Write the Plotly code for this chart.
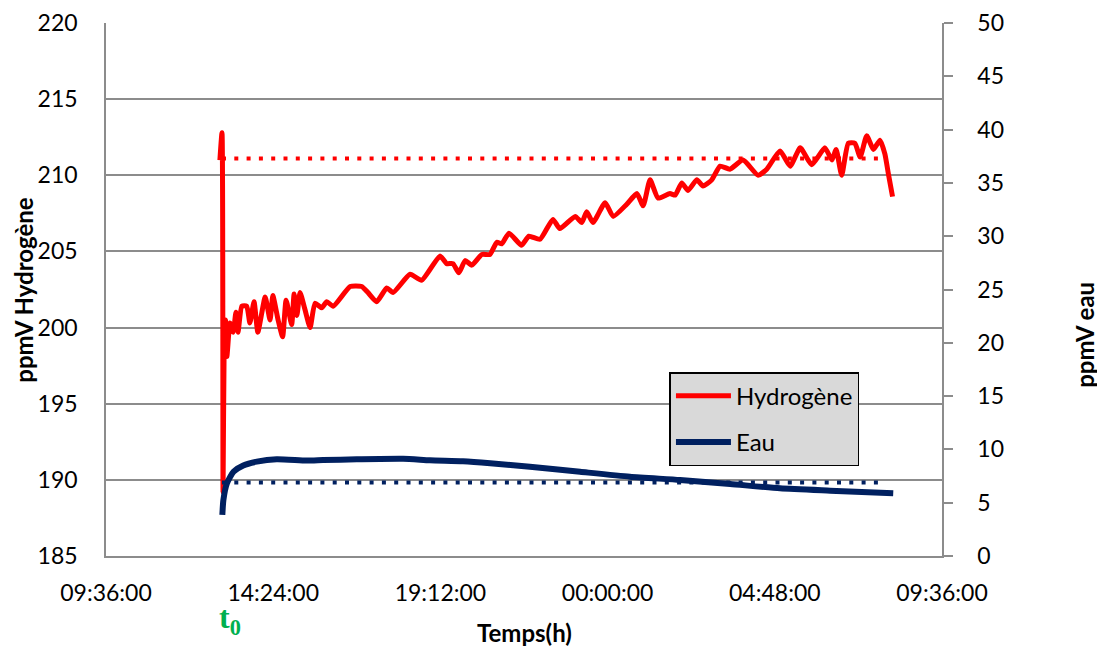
import pandas as pd
import plotly.graph_objects as go

# hours elapsed since 09:36:00 (start of the x axis)
h2_hours = [3.27, 3.33, 3.36, 3.39, 3.43, 3.47, 3.56, 3.65, 3.73, 3.79, 3.90, 4.04, 4.13,
            4.25, 4.36, 4.57, 4.71, 4.79, 4.94, 5.07, 5.17, 5.33, 5.40, 5.48, 5.57,
            5.71, 5.86, 6.00, 6.19, 6.34, 6.52, 7.01, 7.34, 7.52, 7.77, 8.06, 8.24,
            8.73, 9.06, 9.59, 9.78, 9.96, 10.13, 10.31, 10.50, 10.79, 11.02, 11.22,
            11.36, 11.57, 11.93, 12.14, 12.46, 12.83, 13.03, 13.47, 13.66, 13.80,
            13.98, 14.33, 14.56, 14.95, 15.24, 15.42, 15.62, 15.85, 16.19, 16.34,
            16.53, 16.71, 16.96, 17.14, 17.39, 17.63, 17.91, 18.29, 18.72, 18.97,
            19.35, 19.64, 19.93, 20.26, 20.64, 20.84, 20.96, 21.12, 21.31, 21.50,
            21.65, 21.84, 22.03, 22.22, 22.36, 22.46, 22.58]
h2_ppmv = [211.0, 212.8, 189.2, 198.3, 200.5, 198.1, 200.3, 199.7, 201.0, 199.7, 201.4, 201.4,
           200.3, 201.7, 199.7, 202.0, 200.5, 202.1, 200.5, 199.4, 201.8, 200.2, 202.2,
           200.8, 202.3, 201.2, 200.0, 201.6, 201.3, 201.7, 201.4, 202.7, 202.7, 202.3,
           201.7, 202.6, 202.3, 203.5, 203.1, 204.7, 204.2, 204.2, 203.6, 204.4, 204.1,
           204.8, 204.8, 205.6, 205.5, 206.2, 205.4, 206.0, 205.8, 207.1, 206.5, 207.3,
           206.9, 207.6, 206.9, 208.2, 207.3, 208.1, 208.8, 208.0, 209.7, 208.5, 208.8,
           208.7, 209.5, 209.0, 209.7, 209.3, 209.7, 210.6, 210.4, 211.0, 210.0, 210.4,
           211.6, 210.6, 211.8, 210.7, 211.8, 211.0, 211.7, 210.0, 212.1, 212.1, 211.2,
           212.6, 211.7, 212.3, 211.4, 210.1, 208.6]

eau_hours = [3.34, 3.37, 3.47, 3.66, 3.94, 4.33, 4.90, 5.76, 6.23, 7.20, 8.53, 9.30, 10.25,
             11.03, 12.17, 13.61, 15.04, 16.48, 17.92, 19.35, 20.79, 22.60]
eau_ppmv = [3.85, 5.25, 6.8, 7.9, 8.5, 8.85, 9.07, 8.95, 9.0, 9.07, 9.12, 8.98, 8.88,
            8.7, 8.38, 7.9, 7.44, 7.13, 6.75, 6.35, 6.13, 5.88]

# dotted reference levels
ref_hours = [3.33, 22.36]
h2_ref = [211.1, 211.1]
eau_ref = [6.9, 6.9]

tick_labels = ["09:36:00", "14:24:00", "19:12:00", "00:00:00", "04:48:00", "09:36:00"]

start = pd.Timestamp("2013-01-01 09:36:00")
def to_time(hours):
    return start + pd.to_timedelta(hours, unit="h")

FONT = "Lato, 'Open Sans', sans-serif"
RED = "#FF0000"
NAVY = "#002060"
GRID = "#8C8C8C"

fig = go.Figure()
fig.add_trace(go.Scatter(x=to_time(ref_hours), y=h2_ref, mode="lines", showlegend=False,
                         line=dict(color=RED, width=4, dash="4px,8.3px")))
fig.add_trace(go.Scatter(x=to_time(ref_hours), y=eau_ref, yaxis="y2", mode="lines", showlegend=False,
                         line=dict(color=NAVY, width=4, dash="4px,8.3px")))
fig.add_trace(go.Scatter(x=to_time(h2_hours), y=h2_ppmv, name="Hydrogène", legendgroup="a",
                         mode="lines", line=dict(color=RED, width=5, shape="spline", smoothing=0.5)))
fig.add_trace(go.Scatter(x=to_time(eau_hours), y=eau_ppmv, name="Eau", yaxis="y2", legendgroup="b",
                         mode="lines", line=dict(color=NAVY, width=6, shape="spline", smoothing=0.6)))

tickvals = [start + pd.Timedelta(hours=4.8 * i) for i in range(6)]

# page body has an 8px margin, so the figure starts at (8, 8) in the window
fig.update_layout(
    width=1097, height=640,
    margin=dict(l=98, r=163, t=15, b=92, autoexpand=False),
    paper_bgcolor="white", plot_bgcolor="white",
    font=dict(family=FONT, size=23, color="black"),
    xaxis=dict(range=[tickvals[0], tickvals[-1]], tickvals=tickvals, ticktext=tick_labels,
               showgrid=False, showline=True, linecolor=GRID, linewidth=1.5, ticks="",
               zeroline=False, ticklabelstandoff=16, automargin=False),
    yaxis=dict(range=[185, 220], dtick=5, showgrid=True, gridcolor=GRID, gridwidth=1.5,
               showline=True, linecolor=GRID, linewidth=1.5, ticks="", zeroline=False,
               ticklabelstandoff=22, automargin=False),
    yaxis2=dict(range=[0, 50], dtick=5, overlaying="y", side="right", showgrid=False,
                showline=True, linecolor=GRID, linewidth=1.5, ticks="outside", ticklen=9,
                tickcolor=GRID, tickwidth=1.5, zeroline=False, ticklabelstandoff=20,
                automargin=False),
    legend=dict(x=0.674, y=0.345, xanchor="left", yanchor="top", bgcolor="#D9D9D9",
                bordercolor="black", borderwidth=1.5, traceorder="grouped", tracegroupgap=12,
                itemwidth=55, font=dict(family=FONT, size=24)),
    annotations=[
        dict(text="<b>ppmV Hydrogène</b>", xref="paper", yref="paper", x=-0.099, y=0.5,
             xanchor="center", yanchor="middle",
             textangle=-90, showarrow=False, font=dict(size=24)),
        dict(text="<b>ppmV eau</b>", xref="paper", yref="paper", x=1.171, y=0.415,
             xanchor="center", yanchor="middle",
             textangle=-90, showarrow=False, font=dict(size=24)),
        dict(text="<b>Temps(h)</b>", xref="paper", yref="paper", x=0.5, y=-0.143,
             xanchor="center", yanchor="middle", showarrow=False, font=dict(size=24)),
        dict(text="<b>t<sub>0</sub></b>", xref="paper", yref="paper", x=0.148, y=-0.12,
             xanchor="center", yanchor="middle", showarrow=False,
             font=dict(family="'Liberation Serif', serif", size=32, color="#00B050")),
    ],
)

fig.write_html("out.html")
